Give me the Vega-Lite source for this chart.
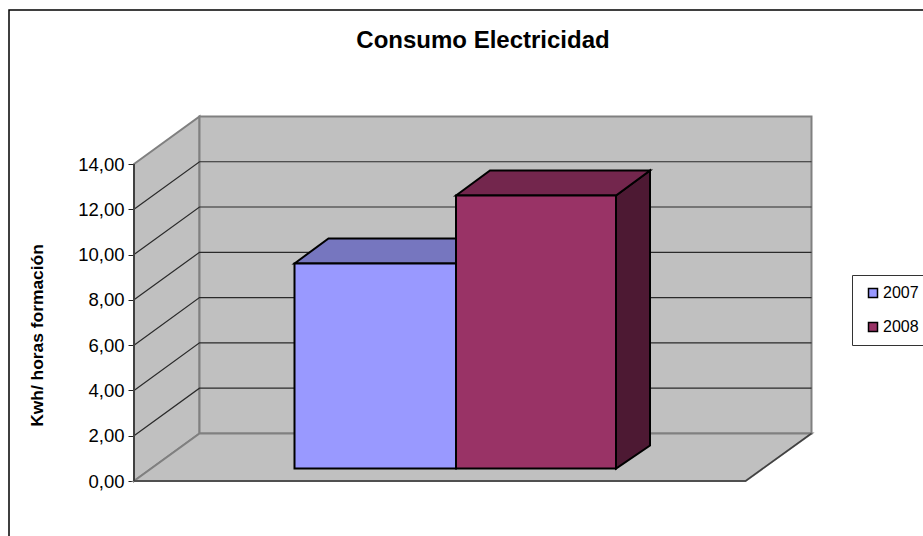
{"$schema":"https://vega.github.io/schema/vega-lite/v6.json","width":678,"height":365,"autosize":{"type":"none"},"padding":{"left":134,"top":116,"right":111,"bottom":55},"background":"white","config":{"view":{"stroke":null},"font":"Liberation Sans"},"title":{"text":"Consumo Electricidad","font":"Liberation Sans","fontSize":24,"fontWeight":"bold","color":"#000","anchor":"middle","frame":"group","offset":-44,"dx":10},"datasets":{"frame":[{"x":-125,"x2":900,"y":20.8,"y2":-4}],"walls":[{"face":"left","x":0,"y":14,"y2":0},{"face":"left","x":65.5,"y":16.1,"y2":2.1},{"face":"back","x":65.5,"y":16.1,"y2":2.1},{"face":"back","x":677.5,"y":16.1,"y2":2.1},{"face":"floor","x":0,"y":0,"y2":0},{"face":"floor","x":65.5,"y":2.1,"y2":0},{"face":"floor","x":611.5,"y":2.1,"y2":0},{"face":"floor","x":677.5,"y":2.1,"y2":2.1}],"grid":[{"v":2,"x":0,"y":2},{"v":2,"x":65.5,"y":4.1},{"v":2,"x":677.5,"y":4.1},{"v":4,"x":0,"y":4},{"v":4,"x":65.5,"y":6.1},{"v":4,"x":677.5,"y":6.1},{"v":6,"x":0,"y":6},{"v":6,"x":65.5,"y":8.1},{"v":6,"x":677.5,"y":8.1},{"v":8,"x":0,"y":8},{"v":8,"x":65.5,"y":10.1},{"v":8,"x":677.5,"y":10.1},{"v":10,"x":0,"y":10},{"v":10,"x":65.5,"y":12.1},{"v":10,"x":677.5,"y":12.1},{"v":12,"x":0,"y":12},{"v":12,"x":65.5,"y":14.1},{"v":12,"x":677.5,"y":14.1}],"edges":[{"x":0,"y":0},{"x":611.5,"y":0},{"x":677.5,"y":2.1}],"leftEdge":[{"x":0,"y":0},{"x":0,"y":14}],"top2007":[{"x":160.5,"y":9.607,"y2":9.607},{"x":194.5,"y":10.71,"y2":9.607},{"x":322,"y":10.71,"y2":9.607},{"x":356,"y":10.71,"y2":10.71}],"side2008":[{"x":482,"y":12.61,"y2":0.552},{"x":516,"y":13.715,"y2":1.568}],"top2008":[{"x":322,"y":12.61,"y2":12.61},{"x":356,"y":13.715,"y2":12.61},{"x":482,"y":13.715,"y2":12.61},{"x":516,"y":13.715,"y2":13.715}],"fronts":[{"serie":"2007","x":160.5,"x2":322,"y":9.607,"y2":0.552},{"serie":"2008","x":322,"x2":482,"y":12.61,"y2":0.552}]},"encoding":{"x":{"field":"x","type":"quantitative","scale":{"domain":[0,678],"nice":false,"zero":false},"axis":null},"y":{"field":"y","type":"quantitative","scale":{"domain":[0,16.12],"nice":false},"axis":{"values":[0,2,4,6,8,10,12,14],"labelExpr":"replace(format(datum.value,'.2f'),'.',',')","labelFont":"Liberation Sans","labelFontSize":18.5,"labelColor":"#000","labelPadding":4,"tickSize":6,"tickColor":"#222","grid":false,"domain":false,"title":"Kwh/ horas formación","titleFont":"Liberation Sans","titleFontSize":17.4,"titleFontWeight":"bold","titleColor":"#000","titleX":-88,"titleY":219,"titleAngle":-90}}},"layer":[{"data":{"name":"frame"},"mark":{"type":"rect","filled":false,"stroke":"#000","strokeWidth":1.5},"encoding":{"x2":{"field":"x2"},"y2":{"field":"y2"}}},{"data":{"name":"walls"},"mark":{"type":"area","fill":"#C0C0C0","stroke":"#808080","strokeWidth":2,"orient":"vertical","opacity":1},"encoding":{"y2":{"field":"y2"},"detail":{"field":"face"}}},{"data":{"name":"grid"},"mark":{"type":"line","stroke":"#2a2a2a","strokeWidth":1.2},"encoding":{"detail":{"field":"v"}}},{"data":{"name":"edges"},"mark":{"type":"line","stroke":"#404040","strokeWidth":1.5}},{"data":{"name":"leftEdge"},"mark":{"type":"line","stroke":"#404040","strokeWidth":2}},{"data":{"name":"top2007"},"mark":{"type":"area","fill":"#7676BF","stroke":"#000","strokeWidth":2,"orient":"vertical","opacity":1},"encoding":{"y2":{"field":"y2"}}},{"data":{"name":"side2008"},"mark":{"type":"area","fill":"#4D1933","stroke":"#000","strokeWidth":2,"orient":"vertical","opacity":1},"encoding":{"y2":{"field":"y2"}}},{"data":{"name":"top2008"},"mark":{"type":"area","fill":"#73264D","stroke":"#000","strokeWidth":2,"orient":"vertical","opacity":1},"encoding":{"y2":{"field":"y2"}}},{"data":{"name":"fronts"},"mark":{"type":"rect","stroke":"#000","strokeWidth":2,"opacity":1},"encoding":{"x2":{"field":"x2"},"y2":{"field":"y2"},"color":{"field":"serie","type":"nominal","scale":{"domain":["2007","2008"],"range":["#9999FF","#993366"]},"legend":{"title":null,"orient":"none","legendX":718,"legendY":159,"symbolType":"square","symbolSize":81,"symbolStrokeColor":"#000","symbolStrokeWidth":1.5,"symbolOpacity":1,"symbolOffset":3,"labelFont":"Liberation Sans","labelFontSize":16,"labelColor":"#000","labelOffset":2,"rowPadding":18,"padding":10,"strokeColor":"#333","fillColor":"#fff"}}}}]}
